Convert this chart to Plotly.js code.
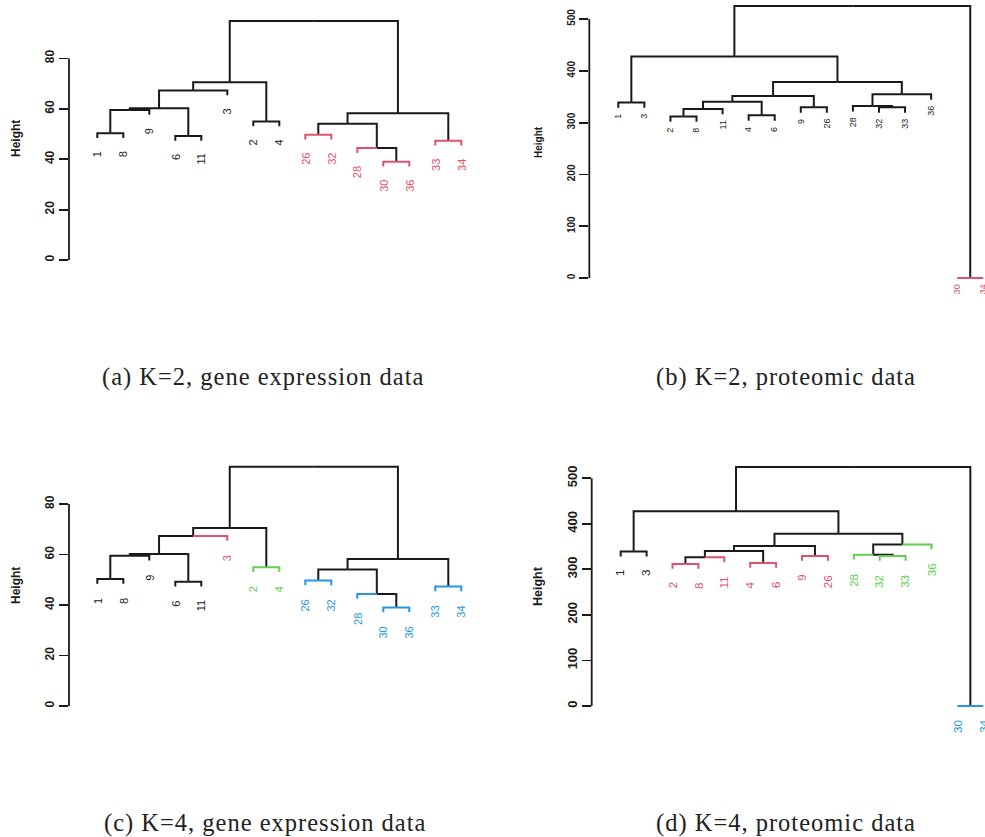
<!DOCTYPE html>
<html>
<head>
<meta charset="utf-8">
<script src="https://cdn.plot.ly/plotly-3.0.1.min.js"></script>
<style>
  html, body { margin: 0; padding: 0; background: #ffffff; }
  #chart { width: 985px; height: 837px; }
  #chart svg text { -webkit-font-smoothing: antialiased; }
</style>
</head>
<body>
<div id="chart"></div>
<script>
// ---- Gene expression tree (hclust-style merges: negative = leaf position, positive = earlier merge row)
const geneLeaves      = ["1", "8", "9", "6", "11", "3", "2", "4", "26", "32", "28", "30", "36", "33", "34"];
const geneMergeLeft   = [-1, -4, -7, -9, -12, -14, 1, 7, 8, 9, -11, 4, 12, 10];
const geneMergeRight  = [-2, -5, -8, -10, -13, -15, -3, 2, -6, 3, 5, 11, 6, 13];
const geneHeights     = [50.3, 49.2, 55.0, 49.7, 39.0, 47.3, 59.5, 60.2, 67.3, 70.5, 44.4, 54.1, 58.2, 94.8];

// ---- Proteomic tree
const protLeaves      = ["1", "3", "2", "8", "11", "4", "6", "9", "26", "28", "32", "33", "36", "30", "34"];
const protMergeLeft   = [-1, -3, 2, -6, 3, -8, 5, -11, -10, 9, 7, 1, -14, 12];
const protMergeRight  = [-2, -4, -5, -7, 4, -9, 6, -12, 8, -13, 10, 11, -15, 13];
const protHeights     = [339.0, 312.0, 326.4, 314.0, 340.1, 329.5, 351.4, 329.5, 332.1, 354.8, 378.4, 427.7, 0, 525.0];

// ---- Cluster membership of each leaf (1 black, 2 red, 3 green, 4 blue)
const geneK2 = [1, 1, 1, 1, 1, 1, 1, 1, 2, 2, 2, 2, 2, 2, 2];
const protK2 = [1, 1, 1, 1, 1, 1, 1, 1, 1, 1, 1, 1, 1, 2, 2];
const geneK4 = [1, 1, 1, 1, 1, 2, 3, 3, 4, 4, 4, 4, 4, 4, 4];
const protK4 = [1, 1, 2, 2, 2, 2, 2, 2, 2, 3, 3, 3, 3, 4, 4];

// ---- Axis ticks and captions
const geneTicks = [0, 20, 40, 60, 80];
const protTicks = [0, 100, 200, 300, 400, 500];
const captions = [
  "(a) K=2, gene expression data",
  "(b) K=2, proteomic data",
  "(c) K=4, gene expression data",
  "(d) K=4, proteomic data"
];

const W = 985, H = 837;
const palette = ["#1a1a1a", "#DF536B", "#61D04F", "#2297E6"];
const INK = "#1a1a1a";

const trees = {
  gene: { leaves: geneLeaves, left: geneMergeLeft, right: geneMergeRight, heights: geneHeights, ticks: geneTicks },
  prot: { leaves: protLeaves, left: protMergeLeft, right: protMergeRight, heights: protHeights, ticks: protTicks }
};

// Pixel frame of each panel: y-axis position, first leaf, leaf step, zero line, pixels per unit
const panels = [
  { tree: "gene", groups: geneK2, caption: captions[0],
    frame: { axis: 69, leaf1: 97.3, step: 26, right: 492, zero: 260, unit: 2.52, top: 0, bottom: 305 },
    tickSize: 12, titleSize: 12, leafSize: 11, labelGap: 12, titlePos: [16, 139], capPos: [263, 377] },
  { tree: "prot", groups: protK2, caption: captions[1],
    frame: { axis: 589.3, leaf1: 618.3, step: 26.07, right: 985, zero: 278, unit: 0.518, top: 0, bottom: 305 },
    tickSize: 10, titleSize: 10, leafSize: 9, labelGap: 5, titlePos: [539, 142], capPos: [786, 377] },
  { tree: "gene", groups: geneK4, caption: captions[2],
    frame: { axis: 69, leaf1: 97.3, step: 26, right: 492, zero: 706, unit: 2.525, top: 446, bottom: 752 },
    tickSize: 12, titleSize: 12, leafSize: 11, labelGap: 13, titlePos: [16, 586], capPos: [265, 823] },
  { tree: "prot", groups: protK4, caption: captions[3],
    frame: { axis: 591.7, leaf1: 620.7, step: 25.9, right: 985, zero: 706, unit: 0.4554, top: 446, bottom: 752 },
    tickSize: 13, titleSize: 12.5, leafSize: 11.5, labelGap: 13, titlePos: [538, 586], capPos: [786, 823] }
];

// Walk the merges and build the elbow segments; each child edge takes the colour of
// its leaf cluster when it ends at a leaf, otherwise it stays black.
function buildDendrogram(tree, groups) {
  const n = tree.heights.length;
  const maxH = Math.max(...tree.heights);
  const hang = 0.02 * maxH;
  const nodeX = new Array(n);
  const segs = {};   // colour -> {x:[], y:[]}
  const leaves = [];
  const childX = c => (c < 0 ? -c : nodeX[c - 1]);
  for (let i = 0; i < n; i++) {
    const h = tree.heights[i];
    const l = tree.left[i], r = tree.right[i];
    const mid = (childX(l) + childX(r)) / 2;
    nodeX[i] = mid;
    [l, r].forEach(c => {
      const cx = childX(c);
      let ch, col;
      if (c < 0) {
        ch = Math.max(0, h - hang);
        col = palette[groups[-c - 1] - 1];
        leaves.push({ x: cx, y: ch, text: tree.leaves[-c - 1], color: col });
      } else {
        ch = tree.heights[c - 1];
        col = palette[0];
      }
      if (!segs[col]) segs[col] = { x: [], y: [] };
      segs[col].x.push(mid, cx, cx, null);
      segs[col].y.push(h, h, ch, null);
    });
  }
  return { segs, leaves };
}

const px2fx = p => p / W;
const px2fy = p => 1 - p / H;

const data = [];
const annotations = [];
const shapes = [];
const layout = {
  width: W, height: H,
  margin: { l: 0, r: 0, t: 0, b: 0 },
  paper_bgcolor: "#ffffff",
  plot_bgcolor: "rgba(0,0,0,0)",
  showlegend: false,
  annotations: annotations,
  shapes: shapes
};

panels.forEach((p, k) => {
  const tree = trees[p.tree];
  const f = p.frame;
  const sfx = k === 0 ? "" : String(k + 1);
  const xa = "x" + sfx, ya = "y" + sfx;
  const built = buildDendrogram(tree, p.groups);

  Object.keys(built.segs).forEach(col => {
    data.push({
      type: "scatter", mode: "lines",
      x: built.segs[col].x, y: built.segs[col].y,
      xaxis: xa, yaxis: ya,
      line: { color: col, width: 2 },
      hoverinfo: "skip", cliponaxis: false
    });
  });

  layout["xaxis" + sfx] = {
    domain: [px2fx(f.axis), px2fx(f.right)],
    range: [1 + (f.axis - f.leaf1) / f.step, 1 + (f.right - f.leaf1) / f.step],
    anchor: ya, showgrid: false, zeroline: false, showline: false,
    showticklabels: false, ticks: "", fixedrange: true
  };
  layout["yaxis" + sfx] = {
    domain: [px2fy(f.bottom), px2fy(f.top)],
    range: [(f.zero - f.bottom) / f.unit, (f.zero - f.top) / f.unit],
    anchor: xa, showgrid: false, zeroline: false, showline: false,
    ticks: "outside", ticklen: 9, tickwidth: 1.8, tickcolor: INK,
    tickmode: "array", tickvals: tree.ticks, ticktext: tree.ticks.map(String),
    tickangle: -90,
    tickfont: { family: "Liberation Sans, Arial, sans-serif", size: p.tickSize, color: INK, weight: "bold" },
    fixedrange: true
  };

  // axis line spanning only the tick range
  shapes.push({
    type: "line", xref: xa + " domain", yref: ya,
    x0: 0, x1: 0, y0: tree.ticks[0], y1: tree.ticks[tree.ticks.length - 1],
    line: { color: INK, width: 1.8 }
  });

  // leaf labels, rotated, hanging under each leaf
  built.leaves.forEach(lf => {
    annotations.push({
      xref: xa, yref: ya, x: lf.x, y: lf.y,
      text: lf.text, showarrow: false, textangle: -90,
      xanchor: "center", yanchor: "top", yshift: -(p.labelGap - 1),
      font: { family: "Liberation Sans, Arial, sans-serif", size: p.leafSize, color: lf.color === palette[0] ? "#222222" : lf.color }
    });
  });

  // y-axis title
  annotations.push({
    xref: "paper", yref: "paper", x: px2fx(p.titlePos[0]), y: px2fy(p.titlePos[1]),
    text: "Height", showarrow: false, textangle: -90,
    xanchor: "center", yanchor: "middle",
    font: { family: "Liberation Sans, Arial, sans-serif", size: p.titleSize, color: INK, weight: "bold" }
  });

  // panel caption
  annotations.push({
    xref: "paper", yref: "paper", x: px2fx(p.capPos[0]), y: px2fy(p.capPos[1]),
    text: '<span style="letter-spacing:1px">' + p.caption + '</span>',
    showarrow: false, xanchor: "center", yanchor: "middle",
    font: { family: "Liberation Serif, Times New Roman, serif", size: 24.5, color: "#222222" }
  });
});

Plotly.newPlot("chart", data, layout, { staticPlot: true, displayModeBar: false });
</script>
</body>
</html>
